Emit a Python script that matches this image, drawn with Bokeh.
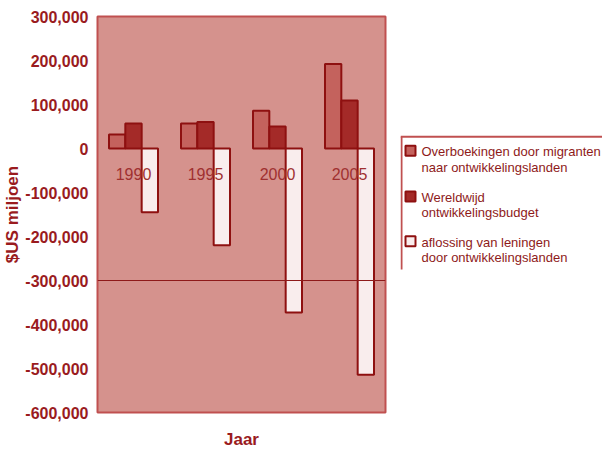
from bokeh.plotting import figure
from bokeh.models import FactorRange, Range1d, FixedTicker, NumeralTickFormatter, Span, ColumnDataSource
from bokeh.transform import dodge
from bokeh.layouts import row
from bokeh.core.properties import value
from bokeh.embed import file_html
from bokeh.resources import INLINE

years = ["1990", "1995", "2000", "2005"]
migrant = [32000, 57000, 86000, 192000]
budget = [57000, 60000, 50000, 109000]
repay = [-145000, -220000, -373000, -514000]
y_ticks = [-600000, -500000, -400000, -300000, -200000, -100000, 0, 100000, 200000, 300000]
legend_lines = [["Overboekingen door migranten", "naar ontwikkelingslanden"],
                ["Wereldwijd", "ontwikkelingsbudget"],
                ["aflossing van leningen", "door ontwikkelingslanden"]]

C_MIG = "#C4625D"
C_BUD = "#A42A28"
C_REP = "#F9EDED"
C_EDGE = "#8E1010"
C_TEXT = "#9A1B1E"
C_BG = "#D5928D"
C_OUT = "#C05050"
FONT = "Liberation Sans"

src = ColumnDataSource(dict(year=years, migrant=migrant, budget=budget, repay=repay))

p = figure(x_range=FactorRange(*years), y_range=Range1d(-600000, 300000),
           width=400, height=451, output_backend="svg", toolbar_location=None,
           min_border_left=97, min_border_right=15, min_border_top=16, min_border_bottom=39)
p.background_fill_color = C_BG
p.border_fill_color = "white"
p.outline_line_color = C_OUT
p.outline_line_width = 2
p.xgrid.visible = False
p.ygrid.visible = False

w = 0.227
p.vbar(x=dodge("year", -w, range=p.x_range), top="migrant", bottom=0, width=w, source=src,
       fill_color=C_MIG, line_color=C_EDGE, line_width=2)
p.vbar(x=dodge("year", 0, range=p.x_range), top="budget", bottom=0, width=w, source=src,
       fill_color=C_BUD, line_color=C_EDGE, line_width=2)
p.vbar(x=dodge("year", w, range=p.x_range), top=0, bottom="repay", width=w, source=src,
       fill_color=C_REP, line_color=C_EDGE, line_width=2)

p.text(x="year", y=0, text="year", source=src, y_offset=25, text_align="center",
       text_baseline="middle", text_font=value(FONT), text_font_size="16px", text_color="#A03030")

p.add_layout(Span(location=-300000, dimension="width", line_color="#8E1A1A", line_width=1))

ya = p.yaxis[0]
ya.ticker = FixedTicker(ticks=y_ticks)
ya.formatter = NumeralTickFormatter(format="0,0")
ya.major_label_text_font = FONT
ya.major_label_text_font_style = "bold"
ya.major_label_text_font_size = "16px"
ya.major_label_text_color = C_TEXT
ya.major_label_standoff = 9
ya.major_tick_out = 0
ya.major_tick_in = 0
ya.minor_tick_out = 0
ya.minor_tick_in = 0
ya.axis_line_color = None
ya.axis_label = "$US miljoen"
ya.axis_label_text_font = FONT
ya.axis_label_text_font_style = "bold"
ya.axis_label_text_font_size = "17px"
ya.axis_label_text_color = C_TEXT
ya.axis_label_standoff = 0

xa = p.xaxis[0]
xa.major_label_text_color = None
xa.major_label_text_font_size = "11px"
xa.major_label_standoff = 0
xa.major_tick_out = 0
xa.major_tick_in = 0
xa.axis_line_color = None
xa.axis_label = "Jaar"
xa.axis_label_text_font = FONT
xa.axis_label_text_font_style = "bold"
xa.axis_label_text_font_size = "17px"
xa.axis_label_text_color = C_TEXT
xa.axis_label_standoff = 17

# legend panel
q = figure(width=202, height=451, x_range=Range1d(0, 202), y_range=Range1d(451, 0),
           output_backend="svg", toolbar_location=None, min_border=0)
q.axis.visible = False
q.grid.visible = False
q.outline_line_color = None
q.background_fill_color = "white"
q.border_fill_color = "white"

q.segment(x0=[0, 1], y0=[137, 137], x1=[202, 1], y1=[137, 288], line_color=C_OUT, line_width=2)
q.scatter(x=[10, 10, 10], y=[153, 205, 256], marker="square", size=10,
          fill_color=[C_MIG, C_BUD, C_REP], line_color=C_EDGE, line_width=2)
line_y = [[154, 172], [206, 223], [257, 274]]
tx, ty, tt = [], [], []
for lines, ys in zip(legend_lines, line_y):
    for t, yy in zip(lines, ys):
        tx.append(21); ty.append(yy); tt.append(t)
q.text(x=tx, y=ty, text=tt, text_baseline="middle", text_align="left",
       text_font=value(FONT), text_font_size="13px", text_color="#8E1A1A")

layout = row(p, q)
open("out.html", "w").write(file_html(layout, INLINE))
